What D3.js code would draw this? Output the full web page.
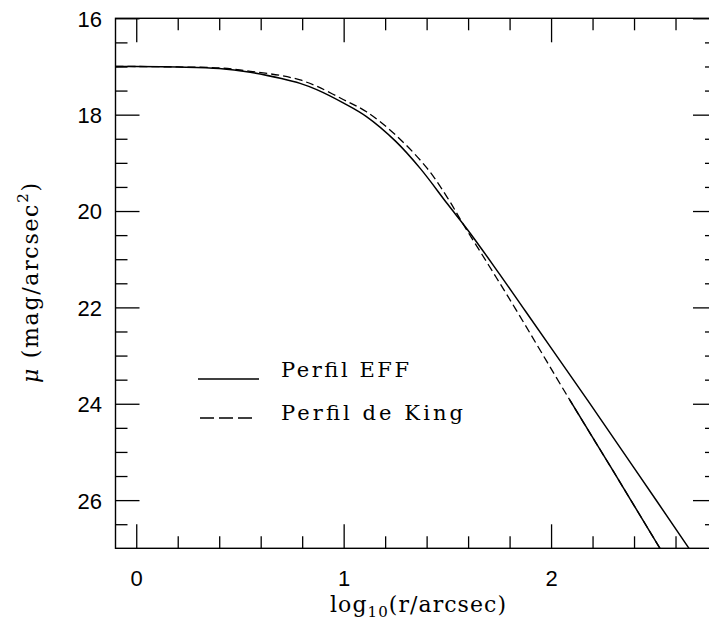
<!DOCTYPE html>
<html><head><meta charset="utf-8">
<script src="https://cdn.jsdelivr.net/npm/d3@7/dist/d3.min.js"></script>
<style>html,body{margin:0;padding:0;background:#fff;overflow:hidden}</style>
</head><body>
<svg id="c" width="709" height="622" xmlns="http://www.w3.org/2000/svg"></svg>
<script>
// ---- data ----
const effLogR = [-0.1, 0.0, 0.2, 0.4, 0.55, 0.7, 0.79, 0.87, 1.0, 1.11, 1.25, 1.37, 1.5, 1.61, 1.75, 1.867, 2.0, 2.18, 2.4, 2.665, 2.75];
const effMu   = [17.00, 17.00, 17.01, 17.04, 17.12, 17.25, 17.35, 17.48, 17.76, 18.04, 18.55, 19.12, 19.85, 20.46, 21.30, 22.02, 22.84, 23.95, 25.33, 27.00, 27.54];
const kingLogR = [-0.1, 0.0, 0.2, 0.4, 0.55, 0.7, 0.79, 0.87, 1.0, 1.11, 1.25, 1.4, 1.5, 1.58, 1.7, 1.827, 2.09, 2.3, 2.525, 2.6];
const kingMu   = [17.00, 17.00, 17.01, 17.03, 17.10, 17.19, 17.28, 17.41, 17.69, 17.94, 18.42, 19.10, 19.72, 20.30, 21.13, 22.02, 23.92, 25.40, 27.00, 27.53];
const kingSolidFrom = 2.09;

const xMajorTicks = [0, 1, 2];
const xMinorTicks = [0.2, 0.4, 0.6, 0.8, 1.2, 1.4, 1.6, 1.8, 2.2, 2.4, 2.6];
const yMajorTicks = [16, 18, 20, 22, 24, 26];
const yMinorTicks = [16.5, 17, 17.5, 18.5, 19, 19.5, 20.5, 21, 21.5, 22.5, 23, 23.5, 24.5, 25, 25.5, 26.5];
const legendLabels = ["Perfil EFF", "Perfil de King"];

// ---- chart ----
const svg = d3.select("#c");
const m = {l: 115.5, r: 717, t: 18.3, b: 548.3};
const x = d3.scaleLinear().domain([-0.1, 2.8]).range([m.l, m.r]);
const y = d3.scaleLinear().domain([16, 27]).range([m.t, m.b]);

svg.append("rect").attr("width", 709).attr("height", 622).attr("fill", "#fff");

svg.append("defs").append("clipPath").attr("id", "plot")
  .append("rect").attr("x", m.l).attr("y", m.t).attr("width", m.r - m.l).attr("height", m.b - m.t);

const sans = "'Liberation Sans', Arial, sans-serif";
const serif = "'DejaVu Serif', 'Liberation Serif', serif";

function styleAxis(g) {
  g.select(".domain").remove();
  g.selectAll("line").attr("stroke", "#000").attr("stroke-width", 1.3);
}

// bottom
svg.append("g").attr("transform", `translate(0,${m.b})`)
  .call(d3.axisBottom(x).tickValues(xMinorTicks).tickSize(-12).tickFormat("")).call(styleAxis);
const bx = svg.append("g").attr("transform", `translate(0,${m.b})`)
  .call(d3.axisBottom(x).tickValues(xMajorTicks).tickSize(-24).tickPadding(38).tickFormat(d3.format("d")));
styleAxis(bx);
bx.selectAll("text").attr("font-family", sans).attr("font-size", 22).attr("fill", "#000").attr("dy", "0");
// top
svg.append("g").attr("transform", `translate(0,${m.t})`)
  .call(d3.axisTop(x).tickValues(xMinorTicks).tickSize(-12).tickFormat("")).call(styleAxis);
svg.append("g").attr("transform", `translate(0,${m.t})`)
  .call(d3.axisTop(x).tickValues(xMajorTicks).tickSize(-24).tickFormat("")).call(styleAxis);
// left
svg.append("g").attr("transform", `translate(${m.l},0)`)
  .call(d3.axisLeft(y).tickValues(yMinorTicks).tickSize(-12).tickFormat("")).call(styleAxis);
const ly = svg.append("g").attr("transform", `translate(${m.l},0)`)
  .call(d3.axisLeft(y).tickValues(yMajorTicks).tickSize(-24).tickPadding(14).tickFormat(d3.format("d")));
styleAxis(ly);
ly.selectAll("text").attr("font-family", sans).attr("font-size", 22).attr("fill", "#000").attr("x", 102 - m.l).attr("dy", "0.36em");
// right
svg.append("g").attr("transform", `translate(${m.r},0)`)
  .call(d3.axisRight(y).tickValues(yMinorTicks).tickSize(-12).tickFormat("")).call(styleAxis);
svg.append("g").attr("transform", `translate(${m.r},0)`)
  .call(d3.axisRight(y).tickValues(yMajorTicks).tickSize(-24).tickFormat("")).call(styleAxis);

// frame
svg.append("rect").attr("x", m.l).attr("y", m.t).attr("width", m.r - m.l).attr("height", m.b - m.t)
  .attr("fill", "none").attr("stroke", "#000").attr("stroke-width", 1.4);

// curves
const line = d3.line().x(d => x(d[0])).y(d => y(d[1])).curve(d3.curveCatmullRom.alpha(0.5));
const eff = effLogR.map((r, i) => [r, effMu[i]]);
const king = kingLogR.map((r, i) => [r, kingMu[i]]);
const plot = svg.append("g").attr("clip-path", "url(#plot)");
plot.append("path").attr("d", line(eff)).attr("fill", "none").attr("stroke", "#000").attr("stroke-width", 1.5);
plot.append("path").attr("d", line(king)).attr("fill", "none").attr("stroke", "#000").attr("stroke-width", 1.3)
  .attr("stroke-dasharray", "8,4");
plot.append("path").attr("d", line(king.filter(d => d[0] >= kingSolidFrom))).attr("fill", "none")
  .attr("stroke", "#000").attr("stroke-width", 1.5);

// legend
const leg = svg.append("g");
leg.append("line").attr("x1", 198).attr("x2", 259).attr("y1", 379).attr("y2", 379).attr("stroke", "#000").attr("stroke-width", 1.5);
leg.append("line").attr("x1", 200).attr("x2", 257).attr("y1", 418).attr("y2", 418).attr("stroke", "#000").attr("stroke-width", 1.3)
  .attr("stroke-dasharray", "14,5");
leg.append("text").attr("x", 281).attr("y", 377).attr("font-family", serif).attr("font-size", 21)
  .attr("textLength", 128).attr("lengthAdjust", "spacing").text(legendLabels[0]);
leg.append("text").attr("x", 281).attr("y", 420).attr("font-family", serif).attr("font-size", 21)
  .attr("textLength", 182).attr("lengthAdjust", "spacing").text(legendLabels[1]);

// x label
const xl = svg.append("text").attr("x", 330).attr("y", 612).attr("font-family", serif).attr("font-size", 22)
  .attr("textLength", 176).attr("lengthAdjust", "spacing");
xl.append("tspan").text("log");
xl.append("tspan").attr("font-size", 15).attr("dy", 5).text("10");
xl.append("tspan").attr("dy", -5).text("(r/arcsec)");

// y label
const yl = svg.append("text").attr("transform", "translate(38,383) rotate(-90)").attr("font-family", serif).attr("font-size", 22)
  .attr("textLength", 200).attr("lengthAdjust", "spacing");
yl.append("tspan").attr("font-style", "italic").text("μ");
yl.append("tspan").text("\u00a0(mag/arcsec");
yl.append("tspan").attr("font-size", 15).attr("dy", -10).text("2");
yl.append("tspan").attr("dy", 10).text(")");
</script>
</body></html>
